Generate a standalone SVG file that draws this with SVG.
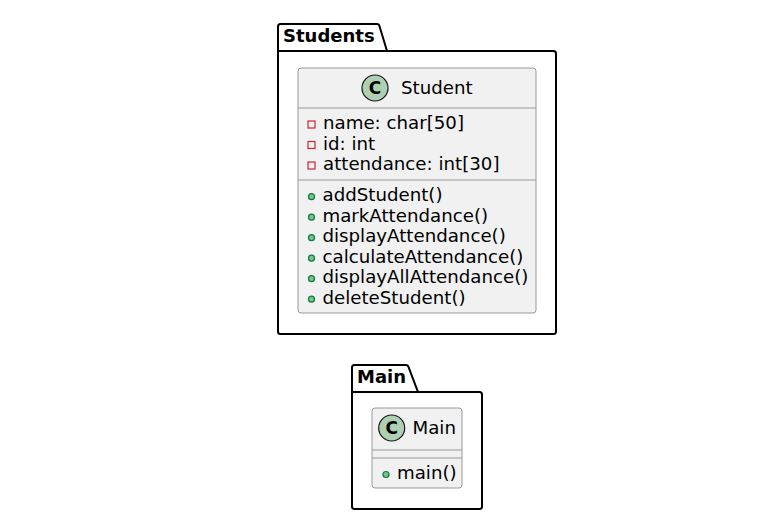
<svg xmlns="http://www.w3.org/2000/svg" width="776" height="514" viewBox="0 0 776 514">
<style>
.pkg{fill:#FFFFFF;stroke:#000000;stroke-width:2;}
.cls{fill:#F1F1F1;stroke:#999999;stroke-width:1;}
.sep{stroke:#999999;stroke-width:1;}
.ttl{font-family:"DejaVu Sans",sans-serif;font-size:18px;font-weight:bold;fill:#000000;}
.txt{font-family:"DejaVu Sans",sans-serif;font-size:18.2px;fill:#000000;}
.ci{fill:#ADD1B2;stroke:#181818;stroke-width:1.2;}
.cc{font-family:"DejaVu Sans",sans-serif;font-size:17px;font-weight:bold;fill:#000000;}
.priv{fill:none;stroke:#C82930;stroke-width:1.2;}
.pub{fill:#84BE84;stroke:#038048;stroke-width:1.2;}
</style>
<rect width="776" height="514" fill="#FFFFFF"/>
<g id="pkg-Students">
<path class="pkg" d="M280.5,24 L377,24 A2.5,2.5 0 0 1 379.3,25.5 L387,51 L553.5,51 A2.5,2.5 0 0 1 556,53.5 L556,331.5 A2.5,2.5 0 0 1 553.5,334 L280.5,334 A2.5,2.5 0 0 1 278,331.5 L278,26.5 A2.5,2.5 0 0 1 280.5,24 Z"/>
<line class="pkg" x1="278" y1="51" x2="387" y2="51"/>
<text class="ttl" x="283" y="42">Students</text>
</g>
<g id="Student">
<rect class="cls" x="298" y="68" width="238" height="245" rx="3"/>
<circle class="ci" cx="375" cy="88" r="13"/>
<text class="cc" x="375" y="94" text-anchor="middle">C</text>
<text class="txt" x="401" y="94">Student</text>
<line class="sep" x1="298" y1="108" x2="536" y2="108"/>
<rect class="priv" x="308" y="121" width="7" height="7"/>
<text class="txt" x="323" y="129">name: char[50]</text>
<rect class="priv" x="308" y="141.5" width="7" height="7"/>
<text class="txt" x="323" y="149.5">id: int</text>
<rect class="priv" x="308" y="162" width="7" height="7"/>
<text class="txt" x="323" y="170">attendance: int[30]</text>
<line class="sep" x1="298" y1="180" x2="536" y2="180"/>
<circle class="pub" cx="311.5" cy="196.7" r="3"/>
<text class="txt" x="322.5" y="201">addStudent()</text>
<circle class="pub" cx="311.5" cy="217.2" r="3"/>
<text class="txt" x="322.5" y="221.5">markAttendance()</text>
<circle class="pub" cx="311.5" cy="237.7" r="3"/>
<text class="txt" x="322.5" y="242">displayAttendance()</text>
<circle class="pub" cx="311.5" cy="258.2" r="3"/>
<text class="txt" x="322.5" y="262.5">calculateAttendance()</text>
<circle class="pub" cx="311.5" cy="278.7" r="3"/>
<text class="txt" x="322.5" y="283">displayAllAttendance()</text>
<circle class="pub" cx="311.5" cy="299.2" r="3"/>
<text class="txt" x="322.5" y="303.5">deleteStudent()</text>
</g>
<g id="pkg-Main">
<path class="pkg" d="M354.5,365 L406,365 A2.5,2.5 0 0 1 408.3,366.5 L418,392 L479.5,392 A2.5,2.5 0 0 1 482,394.5 L482,506.5 A2.5,2.5 0 0 1 479.5,509 L354.5,509 A2.5,2.5 0 0 1 352,506.5 L352,367.5 A2.5,2.5 0 0 1 354.5,365 Z"/>
<line class="pkg" x1="352" y1="392" x2="418" y2="392"/>
<text class="ttl" x="357" y="383">Main</text>
</g>
<g id="Main">
<rect class="cls" x="372" y="408" width="90" height="80" rx="3"/>
<circle class="ci" cx="391.7" cy="428" r="13"/>
<text class="cc" x="391.7" y="434" text-anchor="middle">C</text>
<text class="txt" x="412.5" y="434">Main</text>
<line class="sep" x1="372" y1="450" x2="462" y2="450"/>
<line class="sep" x1="372" y1="458" x2="462" y2="458"/>
<circle class="pub" cx="386" cy="474.5" r="3"/>
<text class="txt" x="397" y="479">main()</text>
</g>
<g id="connectors"></g>
</svg>
